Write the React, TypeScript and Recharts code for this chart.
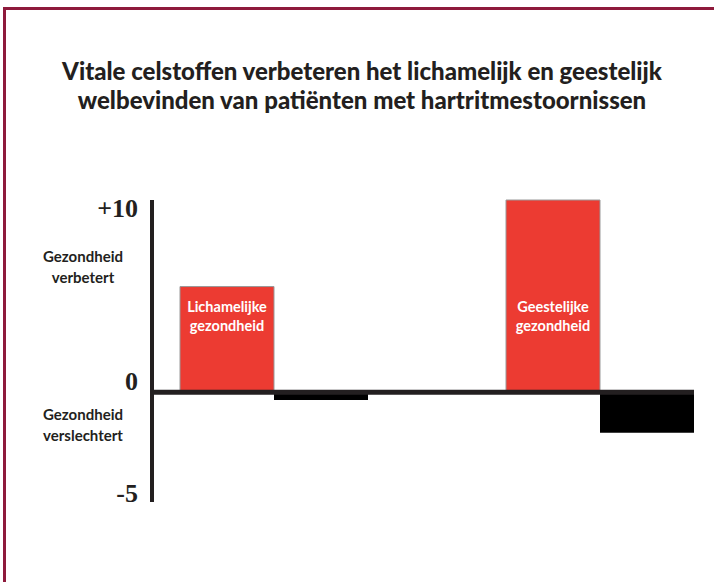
import { BarChart, Bar, XAxis, YAxis, ReferenceLine, LabelList } from 'recharts';

const CATEGORIES = ['Lichamelijke gezondheid', 'Geestelijke gezondheid'];
const BAR_LABELS = [
  ['Lichamelijke', 'gezondheid'],
  ['Geestelijke', 'gezondheid'],
];
const VERBETERD = [5.5, 10];
const VERSLECHTERD = [-0.4, -2.1];
const Y_TICKS = [-5, 0, 10];
const Y_TICK_LABELS = ['-5', '0', '+10'];

const TITLE = [
  'Vitale celstoffen verbeteren het lichamelijk en geestelijk',
  'welbevinden van patiënten met hartritmestoornissen',
];

const chartData = CATEGORIES.map((name, i) => ({
  name,
  up: VERBETERD[i],
  down: VERSLECHTERD[i],
}));

const INK = '#231f20';
const RED = '#ec3b32';
const SANS = 'Lato, "Open Sans", sans-serif';

function YTick(props: any) {
  const { x, y, payload } = props;
  const i = Y_TICKS.indexOf(payload.value);
  // labels sit a little off their ticks in the original
  const dy = payload.value === 10 ? 17 : payload.value === 0 ? -2 : 13;
  return (
    <text
      x={x}
      y={y + dy}
      textAnchor="end"
      fontFamily='"Liberation Serif", serif'
      fontWeight={700}
      fontSize={26}
      fill={INK}
    >
      {Y_TICK_LABELS[i]}
    </text>
  );
}

function InsideLabel(props: any) {
  const { x, y, width, height, index } = props;
  const bottom = y + height;
  const cx = x + width / 2;
  const lines = BAR_LABELS[index];
  return (
    <g>
      {lines.map((t, k) => (
        <text
          key={k}
          x={cx}
          y={bottom - 80 + k * 19}
          textAnchor="middle"
          fontFamily={SANS}
          fontWeight={700}
          fontSize={14.5}
          fill="#fff"
        >
          {t}
        </text>
      ))}
    </g>
  );
}

const sideLabel: React.CSSProperties = {
  position: 'absolute',
  left: 33,
  width: 100,
  textAlign: 'center',
  fontFamily: SANS,
  fontWeight: 700,
  fontSize: 15,
  lineHeight: '21px',
  color: INK,
};

export default function App() {
  return (
    <div
      style={{
        position: 'absolute',
        left: 0,
        top: 0,
        width: 714,
        height: 582,
        overflow: 'hidden',
        background: '#fff',
      }}
    >
      <div
        style={{
          position: 'absolute',
          left: 3,
          top: 7,
          width: 800,
          height: 800,
          borderTop: '3px solid #8e1a3c',
          borderLeft: '3px solid #8e1a3c',
        }}
      />
      <div
        style={{
          position: 'absolute',
          left: 0,
          top: 56,
          width: 724,
          textAlign: 'center',
          fontFamily: SANS,
          fontWeight: 900,
          fontSize: 24,
          lineHeight: '29px',
          color: INK,
        }}
      >
        {TITLE.map((t) => (
          <div key={t}>{t}</div>
        ))}
      </div>
      <div style={{ ...sideLabel, top: 246 }}>
        Gezondheid
        <br />
        verbetert
      </div>
      <div style={{ ...sideLabel, top: 404 }}>
        Gezondheid
        <br />
        verslechtert
      </div>
      <div style={{ position: 'absolute', left: 0, top: 0 }}>
        <BarChart
          width={714}
          height={582}
          data={chartData}
          margin={{ top: 200, right: 20, bottom: 80, left: 92 }}
          barGap={0}
        >
          <XAxis dataKey="name" hide padding={{ left: -41, right: -69 }} />
          <YAxis
            width={60}
            domain={[-5.7, 10]}
            ticks={Y_TICKS}
            interval={0}
            axisLine={{ stroke: INK, strokeWidth: 4 }}
            tickLine={false}
            tickSize={0}
            tickMargin={14}
            tick={<YTick />}
          />
          <Bar dataKey="up" barSize={94} fill={RED} stroke="#999" strokeWidth={1} isAnimationActive={false}>
            <LabelList dataKey="up" content={<InsideLabel />} />
          </Bar>
          <Bar dataKey="down" barSize={94} fill="#000" isAnimationActive={false} />
          <ReferenceLine y={0} stroke={INK} strokeWidth={5} />
        </BarChart>
      </div>
    </div>
  );
}
